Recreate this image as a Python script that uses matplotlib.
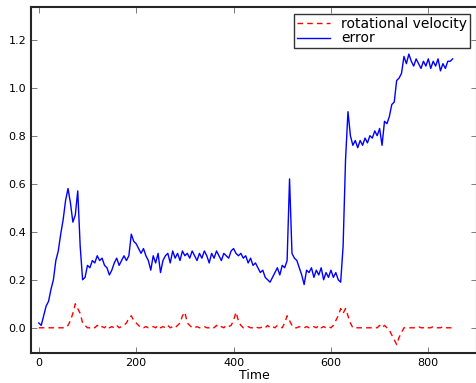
import matplotlib
matplotlib.use("Agg")
import matplotlib.pyplot as plt
import numpy as np

step = 5
error = [
    0.02, 0.01, 0.05, 0.09, 0.11, 0.16, 0.20, 0.28, 0.32, 0.39,
    0.45, 0.53, 0.58, 0.52, 0.44, 0.47, 0.57, 0.34, 0.20, 0.21,
    0.26, 0.25, 0.28, 0.27, 0.30, 0.28, 0.29, 0.26, 0.25, 0.22,
    0.24, 0.27, 0.29, 0.26, 0.28, 0.30, 0.28, 0.30, 0.39, 0.36,
    0.35, 0.33, 0.31, 0.33, 0.30, 0.28, 0.24, 0.30, 0.27, 0.31,
    0.23, 0.28, 0.30, 0.31, 0.27, 0.32, 0.29, 0.31, 0.28, 0.32,
    0.30, 0.31, 0.29, 0.32, 0.30, 0.28, 0.31, 0.29, 0.32, 0.30,
    0.27, 0.31, 0.29, 0.32, 0.30, 0.28, 0.31, 0.30, 0.29, 0.32,
    0.33, 0.31, 0.30, 0.31, 0.29, 0.30, 0.27, 0.29, 0.26, 0.27,
    0.25, 0.23, 0.24, 0.21, 0.20, 0.19, 0.21, 0.23, 0.25, 0.22,
    0.26, 0.25, 0.28, 0.62, 0.31, 0.29, 0.28, 0.25, 0.22, 0.18,
    0.24, 0.23, 0.25, 0.21, 0.24, 0.22, 0.25, 0.20, 0.23, 0.21,
    0.24, 0.21, 0.23, 0.20, 0.19, 0.34, 0.70, 0.90, 0.80, 0.76,
    0.78, 0.75, 0.78, 0.76, 0.79, 0.77, 0.80, 0.79, 0.82, 0.80,
    0.83, 0.76, 0.86, 0.85, 0.88, 0.93, 0.94, 1.03, 1.04, 1.06,
    1.13, 1.10, 1.14, 1.11, 1.09, 1.12, 1.10, 1.08, 1.11, 1.09,
    1.12, 1.08, 1.11, 1.09, 1.12, 1.07, 1.10, 1.08, 1.11, 1.11,
    1.12,
]
rot_velocity = [
    0.0, 0.0, 0.0, 0.0, 0.0, 0.0, 0.0, 0.0, 0.0, 0.0,
    0.0, 0.0, 0.01, 0.03, 0.06, 0.10, 0.08, 0.06, 0.02, 0.01,
    0.0, 0.0, 0.005, 0.0, 0.01, 0.0, 0.005, 0.0, 0.01, 0.0,
    0.005, 0.0, 0.01, 0.0, 0.005, 0.01, 0.02, 0.04, 0.05, 0.03,
    0.02, 0.01, 0.0, 0.0, 0.005, 0.0, 0.0, 0.005, 0.0, 0.01,
    0.0, 0.005, 0.0, 0.01, 0.0, 0.005, 0.0, 0.01, 0.02, 0.05,
    0.065, 0.02, 0.01, 0.0, 0.0, 0.005, 0.0, 0.0, 0.005, 0.0,
    0.0, 0.005, 0.0, 0.01, 0.0, 0.005, 0.0, 0.01, 0.005, 0.01,
    0.03, 0.065, 0.03, 0.01, 0.0, 0.0, 0.005, 0.0, 0.0, 0.005,
    0.0, 0.0, 0.005, 0.0, 0.01, 0.0, 0.005, 0.0, 0.01, 0.005,
    0.0, 0.02, 0.05, 0.03, 0.01, 0.0, 0.0, 0.005, 0.0, 0.0,
    0.005, 0.0, 0.0, 0.005, 0.0, 0.01, 0.0, 0.005, 0.0, 0.005,
    0.0, 0.01, 0.03, 0.05, 0.08, 0.06, 0.08, 0.05, 0.02, 0.0,
    0.0, 0.0, 0.0, 0.0, 0.0, 0.0, 0.0, 0.0, 0.0, 0.0,
    0.01, 0.0, 0.01, 0.0, -0.01, -0.03, -0.05, -0.07, -0.04, -0.02,
    0.0, 0.0, 0.0, 0.0, 0.0, 0.0, 0.005, 0.0, 0.0, 0.005,
    0.0, 0.0, 0.005, 0.0, 0.0, 0.0, 0.005, 0.0, 0.0, 0.0,
    0.0,
]
xticks = [0, 200, 400, 600, 800]
yticks = [0.0, 0.2, 0.4, 0.6, 0.8, 1.0, 1.2]

t = np.arange(len(error)) * step

fig = plt.figure(figsize=(4.77, 3.83), dpi=100)
ax = fig.add_axes([31 / 477, 30 / 383, 446 / 477, 346 / 383])

ax.plot(t, rot_velocity, "r--", lw=1.0, dashes=(4, 3),
        label="rotational velocity")
ax.plot(t, error, "b-", lw=1.0, label="error")

ax.set_xlim(-16, 900)
ax.set_ylim(-0.105, 1.336)
ax.set_xticks(xticks)
ax.set_yticks(yticks)
ax.set_yticklabels([f"{v:.1f}" for v in yticks])
ax.tick_params(direction="in", length=4, width=0.6, labelsize=8,
               top=True, right=True, colors="0.4", labelcolor="black")
for s in ax.spines.values():
    s.set_linewidth(1.5)
    s.set_color("0.15")
ax.set_xlabel("Time", fontsize=9, labelpad=1)

leg = ax.legend(loc="upper right", fontsize=10, fancybox=False,
                framealpha=1, edgecolor="0.2", borderpad=0.2,
                labelspacing=0.05, handlelength=2.4, borderaxespad=0.5)
leg.get_frame().set_linewidth(1.0)

fig.savefig("out.png", dpi=100)
